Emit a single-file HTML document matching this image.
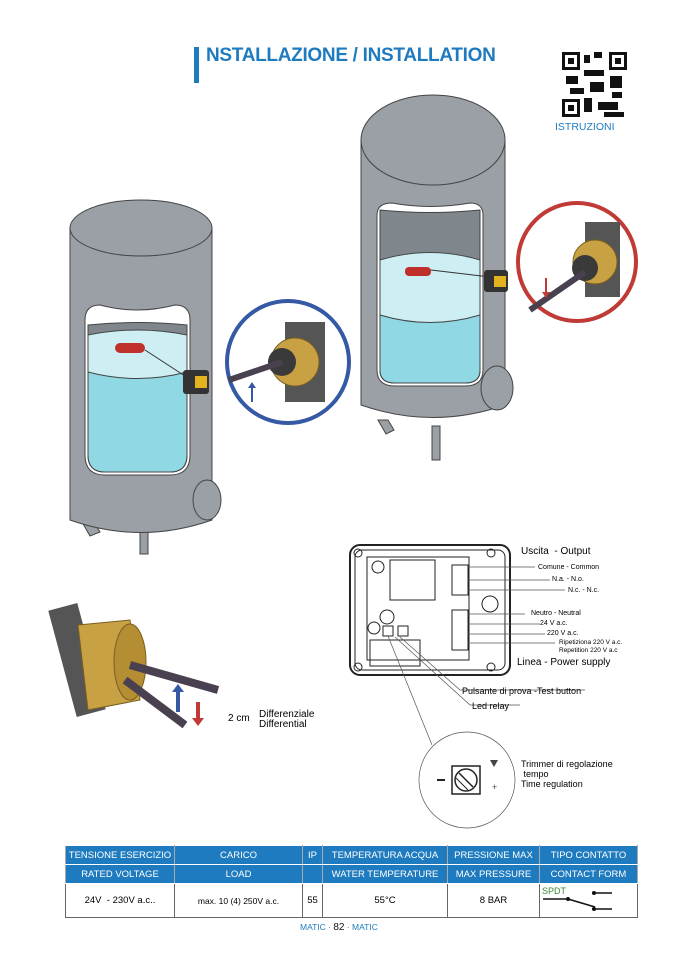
<!DOCTYPE html>
<html><head><meta charset="utf-8"><style>
body{margin:0;background:#fff;width:678px;height:959px;position:relative;font-family:"Liberation Sans",sans-serif;overflow:hidden}
.t{position:absolute;white-space:nowrap}
table{position:absolute;left:65px;top:845px;border-collapse:collapse;font-size:9.5px;text-align:center}
td{border:1px solid #666;padding:0}
.h td{background:#1e7bbf;color:#fff;height:18px;border-color:#fff #aaa}
</style></head><body>
<div class="t" style="left:194px;top:47px;width:5px;height:36px;background:#1e7bbf"></div>
<div class="t" style="left:206px;top:45px;font-size:19px;font-weight:bold;color:#1e7bbf;letter-spacing:-0.3px">NSTALLAZIONE / INSTALLATION</div>
<div class="t" style="left:555px;top:121px;font-size:10.5px;color:#1e7bbf">ISTRUZIONI</div>
<svg width="678" height="959" style="position:absolute;left:0;top:0">
<rect x="562" y="52" width="65" height="65" fill="#fff"/>
<g fill="#111">
<rect x="562" y="52" width="18" height="18"/><rect x="609" y="52" width="18" height="18"/><rect x="562" y="99" width="18" height="18"/>
<rect x="584" y="55" width="6" height="8"/><rect x="594" y="52" width="8" height="6"/><rect x="584" y="70" width="20" height="6"/><rect x="566" y="76" width="12" height="8"/><rect x="590" y="82" width="14" height="10"/><rect x="610" y="76" width="12" height="12"/><rect x="584" y="98" width="8" height="14"/><rect x="598" y="102" width="20" height="8"/><rect x="612" y="92" width="10" height="6"/><rect x="570" y="88" width="14" height="6"/><rect x="604" y="112" width="20" height="5"/>
</g>
<g fill="#fff"><rect x="565" y="55" width="12" height="12"/><rect x="612" y="55" width="12" height="12"/><rect x="565" y="102" width="12" height="12"/></g>
<g fill="#111"><rect x="568" y="58" width="6" height="6"/><rect x="615" y="58" width="6" height="6"/><rect x="568" y="105" width="6" height="6"/></g>

<g stroke="#444" stroke-width="1">
<path d="M82 522 l8 14 l10 -4 l-6 -10 Z M140 530 l0 24 l8 0 l0 -24 Z" fill="#9aa0a6"/>
<path d="M70 228 L70 520 Q141 545 212 520 L212 228 Z" fill="#9aa0a6"/>
<ellipse cx="141" cy="228" rx="71" ry="28" fill="#9aa0a6"/>
<path d="M85 320 Q85 305 100 305 Q137 315 175 305 Q190 305 190 320 L190 455 Q190 475 170 475 L105 475 Q85 475 85 455 Z" fill="#fff"/>
<path d="M88 325 Q137 320 187 325 L187 455 Q187 472 170 472 L105 472 Q88 472 88 455 Z" fill="#7f868c"/>
<path d="M88 335 Q137 325 187 335 L187 455 Q187 472 170 472 L105 472 Q88 472 88 455 Z" fill="#cdeff4"/>
<path d="M88 372 Q137 385 187 372 L187 455 Q187 472 170 472 L105 472 Q88 472 88 455 Z" fill="#90d8e4"/>
<ellipse cx="207" cy="500" rx="14" ry="20" fill="#9aa0a6"/>
</g>
<rect x="115" y="343" width="30" height="10" rx="5" fill="#c0302a"/>
<line x1="145" y1="350" x2="188" y2="378" stroke="#333"/>
<rect x="183" y="370" width="26" height="24" rx="3" fill="#333"/><rect x="195" y="376" width="12" height="12" fill="#e2b31e"/>
<circle cx="288" cy="362" r="61" fill="#fff" stroke="#3559a5" stroke-width="4"/>
<rect x="285" y="322" width="40" height="80" fill="#555"/>
<circle cx="295" cy="362" r="24" fill="#c8a144" stroke="#7a5f1e"/>
<circle cx="282" cy="362" r="14" fill="#3a3a3a"/>
<line x1="229" y1="380" x2="282" y2="362" stroke="#4a4150" stroke-width="6"/>
<path d="M251 402 l0 -14 l-3 0 l4 -6 l4 6 l-3 0 l0 14z" fill="#3559a5"/>
<g stroke="#444" stroke-width="1">
<path d="M378 420 l8 14 l8 -4 l-6 -10 Z M432 426 l0 34 l8 0 l0 -34 Z" fill="#9aa0a6"/>
<path d="M361 140 L361 405 Q433 430 505 405 L505 140 Z" fill="#9aa0a6"/>
<ellipse cx="433" cy="140" rx="72" ry="45" fill="#9aa0a6"/>
<path d="M377 215 Q377 203 392 203 Q430 210 470 203 Q483 203 483 215 L483 370 Q483 386 465 386 L395 386 Q377 386 377 370 Z" fill="#fff"/>
<path d="M380 210 Q430 215 480 210 L480 370 Q480 383 465 383 L395 383 Q380 383 380 370 Z" fill="#7f868c"/>
<path d="M380 260 Q430 245 480 260 L480 370 Q480 383 465 383 L395 383 Q380 383 380 370 Z" fill="#cdeff4"/>
<path d="M380 315 Q430 330 480 315 L480 370 Q480 383 465 383 L395 383 Q380 383 380 370 Z" fill="#90d8e4"/>
<ellipse cx="497" cy="388" rx="16" ry="22" fill="#9aa0a6"/>
</g>
<rect x="405" y="267" width="26" height="9" rx="4" fill="#c0302a"/>
<line x1="431" y1="270" x2="490" y2="277" stroke="#333"/>
<rect x="484" y="270" width="24" height="22" rx="3" fill="#333"/><rect x="494" y="276" width="12" height="11" fill="#e2b31e"/>
<circle cx="577" cy="262" r="59" fill="#fff" stroke="#c03a36" stroke-width="4"/>
<rect x="585" y="222" width="35" height="75" fill="#555"/>
<circle cx="595" cy="262" r="22" fill="#c8a144" stroke="#7a5f1e"/>
<circle cx="585" cy="268" r="13" fill="#3a3a3a"/>
<line x1="530" y1="310" x2="585" y2="272" stroke="#4a4150" stroke-width="6"/>
<path d="M545 278 l0 14 l-3 0 l4 6 l4 -6 l-3 0 l0 -14z" fill="#c03a36"/>
<rect x="62" y="605" width="30" height="110" fill="#555" transform="rotate(-15 77 660)"/>
<path d="M78 625 L130 620 L140 700 L88 710 Z" fill="#c8a144" stroke="#7a5f1e"/>
<ellipse cx="130" cy="662" rx="16" ry="38" fill="#b58e34" stroke="#7a5f1e"/>
<line x1="130" y1="665" x2="218" y2="690" stroke="#4a4150" stroke-width="8"/>
<line x1="125" y1="680" x2="185" y2="725" stroke="#4a4150" stroke-width="8"/>
<path d="M176 712 l0 -20 l-4 0 l6 -8 l6 8 l-4 0 l0 20z" fill="#3559a5"/>
<path d="M196 702 l0 16 l-4 0 l6 8 l6 -8 l-4 0 l0 -16z" fill="#c03a36"/>
<g fill="none" stroke="#222" stroke-width="1">
<rect x="350" y="545" width="160" height="130" rx="10" stroke-width="2"/>
<rect x="355" y="550" width="150" height="120" rx="7"/>
<rect x="367" y="557" width="102" height="103"/>
<rect x="390" y="560" width="45" height="40"/>
<rect x="452" y="565" width="16" height="30"/><rect x="452" y="610" width="16" height="40"/>
<circle cx="378" cy="567" r="6"/><circle cx="387" cy="617" r="7"/><circle cx="374" cy="628" r="6"/>
<rect x="383" y="626" width="10" height="10"/><rect x="398" y="626" width="10" height="10"/>
<rect x="370" y="640" width="50" height="26"/>
<circle cx="490" cy="604" r="8"/>
<circle cx="358" cy="553" r="4"/><circle cx="491" cy="553" r="4"/><circle cx="358" cy="667" r="4"/><circle cx="491" cy="667" r="4"/>
</g>
<g stroke="#555" stroke-width="0.7" fill="none">
<line x1="468" y1="567" x2="535" y2="567"/><line x1="468" y1="580" x2="550" y2="580"/><line x1="468" y1="590" x2="565" y2="590"/>
<line x1="468" y1="614" x2="525" y2="614"/><line x1="468" y1="624" x2="540" y2="624"/><line x1="468" y1="634" x2="545" y2="634"/><line x1="468" y1="643" x2="555" y2="643"/>
<polyline points="400,637 460,690 585,690"/><polyline points="395,637 470,705 520,705"/>
<line x1="388" y1="636" x2="432" y2="745"/>
<circle cx="467" cy="780" r="48"/>
</g>
<rect x="452" y="766" width="28" height="28" fill="#fff" stroke="#222" stroke-width="1.5"/>
<circle cx="466" cy="780" r="11" fill="none" stroke="#222" stroke-width="1.5"/>
<line x1="459" y1="773" x2="473" y2="787" stroke="#222" stroke-width="1.5"/><line x1="456" y1="778" x2="468" y2="790" stroke="#222"/>
<line x1="437" y1="780" x2="445" y2="780" stroke="#222" stroke-width="2"/>
<path d="M490 760 l8 0 l-4 7z" fill="#444"/>
<text x="492" y="790" font-size="9" fill="#444">+</text>
<g stroke="#111" stroke-width="1.5"><line x1="543" y1="899" x2="568" y2="899"/><line x1="568" y1="899" x2="595" y2="907"/><line x1="592" y1="893" x2="612" y2="893"/><line x1="592" y1="909" x2="612" y2="909"/></g>
<circle cx="568" cy="899" r="2" fill="#111"/><circle cx="594" cy="893" r="2" fill="#111"/><circle cx="594" cy="909" r="2" fill="#111"/>
</svg>
<div class="t" style="left:521px;top:546px;font-size:10px">Uscita &nbsp;- Output</div>
<div class="t" style="left:538px;top:564px;font-size:7px">Comune - Common</div>
<div class="t" style="left:552px;top:576px;font-size:7px">N.a. - N.o.</div>
<div class="t" style="left:568px;top:587px;font-size:7px">N.c. - N.c.</div>
<div class="t" style="left:531px;top:610px;font-size:7px">Neutro - Neutral</div>
<div class="t" style="left:540px;top:620px;font-size:7px">24 V a.c.</div>
<div class="t" style="left:547px;top:630px;font-size:7px">220 V a.c.</div>
<div class="t" style="left:559px;top:639px;font-size:6.5px;line-height:8px">Ripetiziona 220 V a.c.<br>Repetition 220 V a.c</div>
<div class="t" style="left:517px;top:657px;font-size:10px">Linea - Power supply</div>
<div class="t" style="left:462px;top:686px;font-size:9px">Pulsante di prova -Test button</div>
<div class="t" style="left:472px;top:701px;font-size:9px">Led relay</div>
<div class="t" style="left:521px;top:759px;font-size:9px;line-height:10px">Trimmer di regolazione<br>&nbsp;tempo<br>Time regulation</div>
<div class="t" style="left:228px;top:713px;font-size:10px">2 cm</div>
<div class="t" style="left:259px;top:710px;font-size:10px;line-height:10px">Differenziale<br>Differential</div>
<table>
<tr class="h"><td style="width:108px">TENSIONE ESERCIZIO</td><td style="width:127px">CARICO</td><td style="width:19px">IP</td><td style="width:124px">TEMPERATURA ACQUA</td><td style="width:91px">PRESSIONE MAX</td><td style="width:97px">TIPO CONTATTO</td></tr>
<tr class="h"><td>RATED VOLTAGE</td><td>LOAD</td><td></td><td>WATER TEMPERATURE</td><td>MAX PRESSURE</td><td>CONTACT FORM</td></tr>
<tr style="height:34px"><td>24V &nbsp;- 230V a.c..</td><td style="font-size:8.5px">max. 10 (4) 250V a.c.</td><td>55</td><td>55°C</td><td>8 BAR</td><td style="text-align:left;vertical-align:top;color:#3a8a3a;font-size:9px;padding:2px">SPDT</td></tr>
</table>
<div class="t" style="left:300px;top:922px;font-size:8.5px;color:#1e7bbf">MATIC · <span style="color:#111;font-size:10px">82</span> · MATIC</div>
</body></html>
